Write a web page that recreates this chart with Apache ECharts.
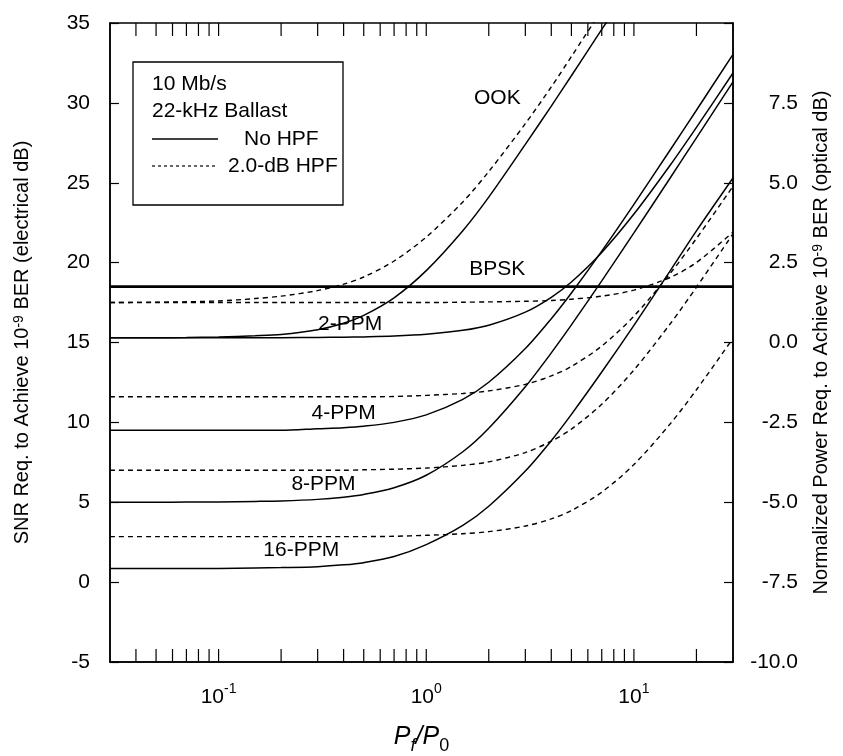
<!DOCTYPE html>
<html><head><meta charset="utf-8">
<script src="https://cdn.jsdelivr.net/npm/echarts@6/dist/echarts.min.js"></script>
<style>html,body{margin:0;padding:0;background:#fff}#c{width:843px;height:756px}</style>
</head><body><div id="c"></div>
<script>
// x values (Pf/P0)
const xs = [0.03,0.05,0.07,0.1,0.15,0.2,0.3,0.4,0.5,0.7,1,1.5,2,3,4,5,7,10,15,20,30];
// No HPF (solid)
const ookSolid  = [15.3,15.3,15.31,15.35,15.42,15.5,15.8,16.2,16.7,17.8,19.5,22.0,24.1,27.4,29.8,31.7,34.6,37.6,null,null,null];
const ppm2Solid = [15.3,15.3,15.3,15.3,15.3,15.3,15.32,15.33,15.35,15.4,15.51,15.76,16.08,16.9,17.83,18.79,20.64,23.04,26.13,28.47,31.87];
const ppm4Solid = [9.5,9.5,9.5,9.5,9.5,9.5,9.6,9.67,9.76,10.0,10.47,11.44,12.51,14.62,16.49,18.1,20.72,23.65,27.08,29.54,33.04];
const ppm8Solid = [5.0,5.0,5.01,5.02,5.05,5.08,5.18,5.32,5.49,5.91,6.69,8.16,9.63,12.23,14.35,16.1,18.86,21.86,25.33,27.81,31.32];
const ppm16Solid= [0.85,0.85,0.86,0.86,0.88,0.91,0.97,1.08,1.22,1.6,2.35,3.55,4.75,6.95,8.85,10.5,13.15,16.07,19.52,21.99,25.3];
// 2.0-dB HPF (dashed)
const ookDash   = [17.5,17.52,17.55,17.6,17.75,17.9,18.25,18.65,19.1,20.1,21.6,23.8,25.7,28.7,31.0,32.9,35.8,38.8,null,null,null];
const ppm2Dash  = [17.5,17.5,17.5,17.5,17.5,17.5,17.5,17.5,17.5,17.5,17.5,17.52,17.54,17.58,17.63,17.71,17.9,18.28,19.08,20.01,21.91];
const ppm4Dash  = [11.6,11.6,11.6,11.6,11.6,11.6,11.6,11.6,11.6,11.62,11.69,11.81,11.97,12.38,12.91,13.5,14.78,16.65,19.35,21.51,24.78];
const ppm8Dash  = [7.0,7.0,7.0,7.0,7.0,7.0,7.0,7.0,7.03,7.07,7.14,7.31,7.53,8.11,8.82,9.58,11.13,13.28,16.19,18.46,21.8];
const ppm16Dash = [2.85,2.85,2.85,2.85,2.85,2.85,2.85,2.85,2.85,2.87,2.93,3.03,3.16,3.51,3.96,4.48,5.63,7.36,9.93,12.04,15.26];
// BPSK (flat)
const bpskX = [0.03, 30];
const bpskY = [18.5, 18.5];
// curve annotations
const curveNames = ['OOK','BPSK','2-PPM','4-PPM','8-PPM','16-PPM'];
const curveLabelX = [2.2, 2.2, 0.43, 0.4, 0.32, 0.25];
const curveLabelY = [30.3, 19.6, 16.15, 10.6, 6.1, 2.0];
// axis ticks
const xMinorTicks = [0.04,0.05,0.06,0.07,0.08,0.09,0.1,0.2,0.3,0.4,0.5,0.6,0.7,0.8,0.9,1,2,3,4,5,6,7,8,9,10,20];
const legendLines = ['10 Mb/s','22-kHz Ballast','No HPF','2.0-dB HPF'];

const FONT = '"Liberation Sans", Arial, Helvetica, sans-serif';
function pts(x, y){ const out=[]; for(let i=0;i<x.length;i++){ if(y[i]!=null) out.push([x[i], y[i]]); } return out; }
function solid(d){ return {type:'line', data:pts(xs,d), showSymbol:false, smooth:0.3, lineStyle:{color:'#000', width:1.5}, silent:true, z:3}; }
function dash(d){ return {type:'line', data:pts(xs,d), showSymbol:false, smooth:0.3, lineStyle:{color:'#000', width:1.4, type:[5,4]}, silent:true, z:3}; }

const chart = echarts.init(document.getElementById('c'), null, {renderer:'canvas'});
const supRich = {b:{fontSize:21, fontFamily:FONT, color:'#000', lineHeight:26, verticalAlign:'bottom'}, s:{fontSize:14, fontFamily:FONT, color:'#000', lineHeight:14, verticalAlign:'top'}};
const option = {
  animation:false,
  backgroundColor:'#fff',
  grid:{left:110, right:110, top:23, bottom:94, show:true, borderColor:'#000', borderWidth:1.5, containLabel:false, outerBoundsMode:'none'},
  xAxis:{type:'log', logBase:10, min:0.03, max:30,
    axisLine:{show:true, onZero:false, lineStyle:{color:'#000', width:1.5}},
    axisTick:{show:false}, minorTick:{show:false}, splitLine:{show:false}, minorSplitLine:{show:false},
    axisLabel:{margin:20, color:'#000', showMinLabel:false, showMaxLabel:false,
      formatter:function(v){ const e=Math.log10(v); const r=Math.round(e); if(Math.abs(e-r)>1e-6) return ''; return '{b|10}{s|'+r+'}'; },
      rich:supRich},
    name:'{p|P}{f|f}{sl|/}{p|P}{z|0}', nameLocation:'middle', nameGap:63,
    nameTextStyle:{rich:{
      p:{fontSize:25, fontStyle:'italic', fontFamily:FONT, color:'#000', lineHeight:26, verticalAlign:'top'},
      sl:{fontSize:25, fontStyle:'italic', fontFamily:FONT, color:'#000', lineHeight:26, verticalAlign:'top'},
      f:{fontSize:18, fontStyle:'italic', fontFamily:FONT, color:'#000', lineHeight:18, padding:[12,0,0,0], verticalAlign:'top'},
      z:{fontSize:18, fontFamily:FONT, color:'#000', lineHeight:18, padding:[12,0,0,0], verticalAlign:'top'}
    }}
  },
  yAxis:[
    {type:'value', min:-5, max:35, interval:5, position:'left',
     axisLine:{show:true, onZero:false, lineStyle:{color:'#000', width:1.5}},
     axisTick:{show:true, inside:true, length:9, lineStyle:{color:'#000', width:1.2}},
     splitLine:{show:false},
     axisLabel:{color:'#000', fontSize:21, fontFamily:FONT, margin:20},
     name:'SNR Req. to Achieve 10{s|-9} BER (electrical dB)', nameLocation:'middle', nameRotate:90, nameGap:78,
     nameTextStyle:{fontSize:20, fontFamily:FONT, color:'#000', rich:{s:{fontSize:14, fontFamily:FONT, color:'#000', verticalAlign:'top', lineHeight:12}}}
    },
    {type:'value', min:-10, max:10, interval:2.5, position:'right',
     axisLine:{show:true, onZero:false, lineStyle:{color:'#000', width:1.5}},
     axisTick:{show:true, inside:true, length:9, lineStyle:{color:'#000', width:1.2}},
     splitLine:{show:false},
     axisLabel:{color:'#000', fontSize:21, fontFamily:FONT, margin:65, align:'right',
       formatter:function(v){ return v >= 10 ? '' : v.toFixed(1); }},
     name:'Normalized Power Req. to Achieve 10{s|-9} BER (optical dB)', nameLocation:'middle', nameRotate:90, nameGap:78,
     nameTextStyle:{fontSize:20, fontFamily:FONT, color:'#000', rich:{s:{fontSize:14, fontFamily:FONT, color:'#000', verticalAlign:'top', lineHeight:12}}}
    }
  ],
  series:[
    solid(ookSolid), solid(ppm2Solid), solid(ppm4Solid), solid(ppm8Solid), solid(ppm16Solid),
    dash(ookDash), dash(ppm2Dash), dash(ppm4Dash), dash(ppm8Dash), dash(ppm16Dash),
    {type:'line', data:pts(bpskX,bpskY), showSymbol:false, lineStyle:{color:'#000', width:2.6}, silent:true, z:4},
    {type:'scatter', data:curveNames.map((n,i)=>({name:n, value:[curveLabelX[i], curveLabelY[i]]})), symbolSize:0, silent:true, z:5,
     itemStyle:{color:'#000', opacity:1},
     label:{show:true, position:'inside', formatter:'{b}', color:'#000', fontSize:21, fontFamily:FONT, textBorderWidth:0, textBorderColor:'transparent', opacity:1}}
  ]
};
chart.setOption(option);

// tick marks on bottom and top axes (inside), positioned through the axis scale
const yTop = chart.convertToPixel({yAxisIndex:0}, 35);
const yBot = chart.convertToPixel({yAxisIndex:0}, -5);
const xL = chart.convertToPixel({xAxisIndex:0}, 0.03);
const g = [];
xMinorTicks.forEach(v => {
  const px = chart.convertToPixel({xAxisIndex:0}, v);
  g.push({type:'line', silent:true, z:10, shape:{x1:px, y1:yBot, x2:px, y2:yBot-13}, style:{stroke:'#000', lineWidth:1.2}});
  g.push({type:'line', silent:true, z:10, shape:{x1:px, y1:yTop, x2:px, y2:yTop+13}, style:{stroke:'#000', lineWidth:1.2}});
});
// legend box
const bx = xL + 23, by = yTop + 39, bw = 210, bh = 143;
g.push({type:'rect', silent:true, z:20, shape:{x:bx, y:by, width:bw, height:bh}, style:{fill:'#fff', stroke:'#000', lineWidth:1.3}});
const rowY = [by+22, by+49, by+77, by+104];
g.push({type:'text', silent:true, z:21, style:{x:bx+19, y:rowY[0], text:legendLines[0], font:'21px '+FONT, fill:'#000', verticalAlign:'middle'}});
g.push({type:'text', silent:true, z:21, style:{x:bx+19, y:rowY[1], text:legendLines[1], font:'21px '+FONT, fill:'#000', verticalAlign:'middle'}});
g.push({type:'line', silent:true, z:21, shape:{x1:bx+19, y1:rowY[2], x2:bx+85, y2:rowY[2]}, style:{stroke:'#000', lineWidth:1.5}});
g.push({type:'text', silent:true, z:21, style:{x:bx+111, y:rowY[2], text:legendLines[2], font:'21px '+FONT, fill:'#000', verticalAlign:'middle'}});
g.push({type:'line', silent:true, z:21, shape:{x1:bx+19, y1:rowY[3], x2:bx+85, y2:rowY[3]}, style:{stroke:'#000', lineWidth:1.2, lineDash:[3,3]}});
g.push({type:'text', silent:true, z:21, style:{x:bx+95, y:rowY[3], text:legendLines[3], font:'21px '+FONT, fill:'#000', verticalAlign:'middle'}});
chart.setOption({graphic:g});
</script></body></html>
